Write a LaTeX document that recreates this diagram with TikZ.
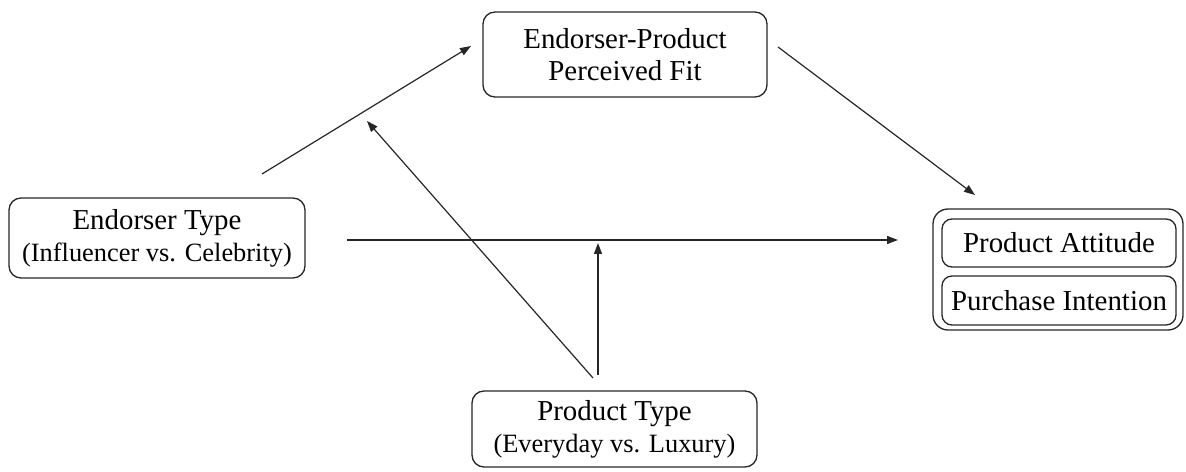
\documentclass[tikz,border=0pt]{standalone}
\usepackage{fontspec}
\setmainfont{LiberationSerif}[Extension=.ttf, UprightFont=*-Regular, BoldFont=*-Bold]
\usetikzlibrary{arrows.meta}
\begin{document}
\begin{tikzpicture}[x=1bp,y=-1bp,
  box/.style={draw=black!85, line width=1.3bp, rounded corners=12bp, align=center, inner sep=0pt, font=\rmfamily\fontsize{29}{32}\selectfont},
  arr/.style={draw=black!85, line width=1.2bp, -{Triangle[length=11bp,width=8bp]}},
  ]
\useasboundingbox (0,0) rectangle (1186,472);
\newcommand{\subline}[1]{{\fontsize{26.5}{32}\selectfont #1}}
\node[box, minimum width=296bp, minimum height=80bp] (et) at (157,238) {Endorser Type\\\subline{(Influencer vs. Celebrity)}};
\node[box, minimum width=284bp, minimum height=85bp] (fit) at (625,54.5) {Endorser-Product\\Perceived Fit};
\node[box, minimum width=285bp, minimum height=76bp] (pt) at (614.5,429) {Product Type\\\subline{(Everyday vs. Luxury)}};
\node[box, rounded corners=15bp, minimum width=250bp, minimum height=121bp] (out) at (1058,269.5) {};
\node[box, rounded corners=10bp, minimum width=234bp, minimum height=48bp] (pa) at (1059,243) {Product Attitude};
\node[box, rounded corners=10bp, minimum width=234bp, minimum height=49bp] (pi) at (1059,300.5) {Purchase Intention};
\coordinate (a1s) at (262,174);
\coordinate (a1e) at (471,46);
\coordinate (a2s) at (593,378);
\coordinate (a2e) at (367,121);
\coordinate (a3s) at (347,240);
\coordinate (a3e) at (898,240);
\coordinate (a4s) at (598,375);
\coordinate (a4e) at (598,243);
\coordinate (a5s) at (778,47);
\coordinate (a5e) at (975,195);
\draw[arr] (a1s) -- (a1e);
\draw[arr] (a2s) -- (a2e);
\draw[arr] (a3s) -- (a3e);
\draw[arr] (a4s) -- (a4e);
\draw[arr] (a5s) -- (a5e);
\end{tikzpicture}
\end{document}
